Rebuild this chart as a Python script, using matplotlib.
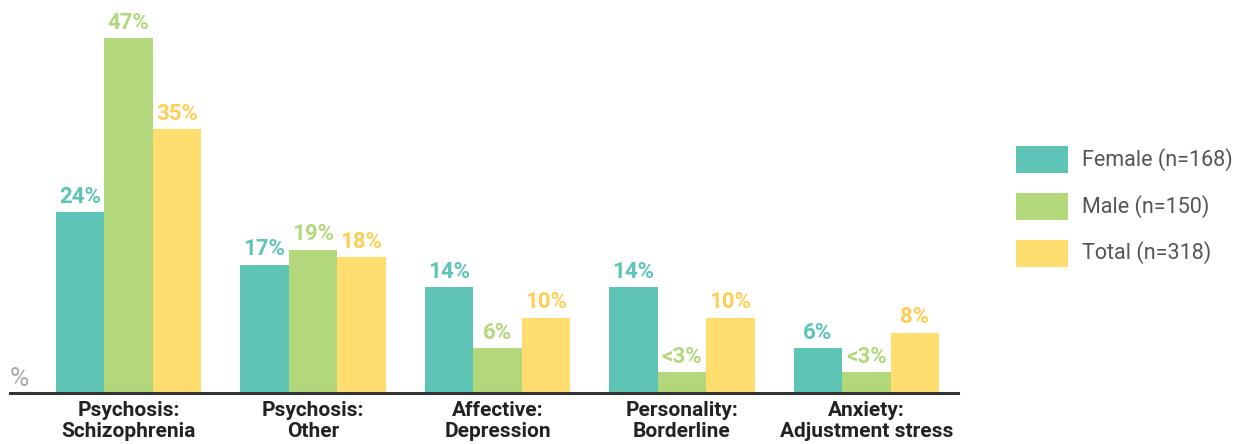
import matplotlib
matplotlib.use("Agg")
import matplotlib.pyplot as plt
from matplotlib.patches import Rectangle
import numpy as np

categories = ["Psychosis:\nSchizophrenia", "Psychosis:\nOther", "Affective:\nDepression",
              "Personality:\nBorderline", "Anxiety:\nAdjustment stress"]
series_names = ["Female (n=168)", "Male (n=150)", "Total (n=318)"]
female = [24, 17, 14, 14, 6]
male = [47, 19, 6, 2.8, 2.8]
total = [35, 18, 10, 10, 8]
female_labels = ["24%", "17%", "14%", "14%", "6%"]
male_labels = ["47%", "19%", "6%", "<3%", "<3%"]
total_labels = ["35%", "18%", "10%", "10%", "8%"]

bar_colors = ["#5EC4B6", "#B3D77B", "#FFDD6E"]
text_colors = ["#5EC4B6", "#B3D77B", "#FFCF55"]

plt.rcParams['font.family'] = ['Roboto', 'DejaVu Sans']

W, H = 1242, 444
fig = plt.figure(figsize=(W / 100, H / 100), dpi=100)
ax = fig.add_axes([10 / W, (H - 393) / H, 948 / W, 393 / H])

x = np.arange(len(categories))
bw = 48.5 / 184.5
series = [female, male, total]
labels = [female_labels, male_labels, total_labels]

for i, (vals, labs) in enumerate(zip(series, labels)):
    xs = x + (i - 1) * bw
    ax.bar(xs, vals, width=bw, color=bar_colors[i], linewidth=0, zorder=2)
    for xi, v, lab in zip(xs, vals, labs):
        ax.annotate(lab, (xi, v), xytext=(0, 3), textcoords="offset points",
                    ha="center", va="bottom", fontsize=16, fontweight="bold",
                    color=text_colors[i])

ax.set_xlim((10 - 128.5) / 184.5, (958 - 128.5) / 184.5)
ax.set_ylim(0, 393 / 7.55)

for s in ["top", "right", "left"]:
    ax.spines[s].set_visible(False)
ax.spines["bottom"].set_color("#333333")
ax.spines["bottom"].set_linewidth(2.2)
ax.set_yticks([])
ax.set_xticks(x)
ax.set_xticklabels(categories, fontsize=15, fontweight="bold", color="#222222",
                   linespacing=1.12)
ax.tick_params(axis="x", length=0, pad=6)

ax.text(0.0, 0.005, "%", transform=ax.transAxes, ha="left", va="bottom",
        fontsize=19, color="#A8A8A8")

# legend drawn in figure coordinates
for i, name in enumerate(series_names):
    yc = 160 + i * 46.5
    fig.add_artist(Rectangle((1016 / W, 1 - (yc + 13.5) / H), 52 / W, 27 / H,
                             transform=fig.transFigure, color=bar_colors[i], linewidth=0))
    fig.text(1082 / W, 1 - yc / H, name, ha="left", va="center", fontsize=15.5,
             color="#555555")

fig.savefig("out.png", dpi=100)
